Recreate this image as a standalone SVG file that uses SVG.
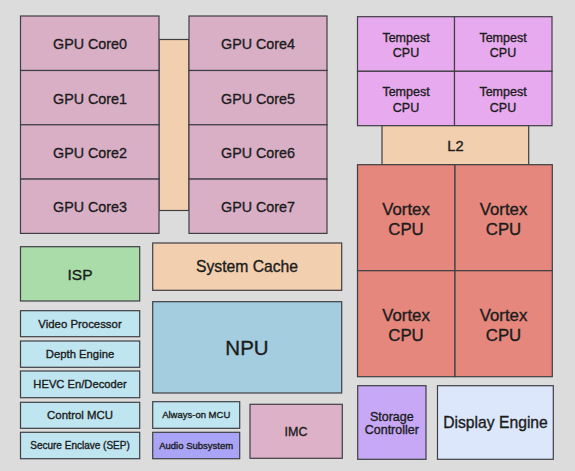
<svg xmlns="http://www.w3.org/2000/svg" width="575" height="471" viewBox="0 0 575 471">
<style>
  .b{stroke:#3f3f44;stroke-width:1.2}
  text{font-family:"Liberation Sans",Arial,Helvetica,sans-serif;fill:#1c1c1c;stroke:#1c1c1c;stroke-width:0.35;text-anchor:middle}
  .gpu{fill:#d9afc5}
  .cache{fill:#f2cfae}
  .temp{fill:#e8aaee}
  .vort{fill:#e5877c}
  .lb{fill:#bfe5f0}
</style>
<rect width="575" height="471" fill="#dcdcdc"/>

<g id="gpu-fabric"><rect class="b cache" x="159" y="39.5" width="30" height="171"/></g>
<g id="gpu0"><rect class="b gpu" x="20.5" y="16" width="138.5" height="54.5"/><text x="90" y="49" font-size="14.3">GPU Core0</text></g>
<g id="gpu1"><rect class="b gpu" x="20.5" y="70.5" width="138.5" height="54.3"/><text x="90" y="103.5" font-size="14.3">GPU Core1</text></g>
<g id="gpu2"><rect class="b gpu" x="20.5" y="124.8" width="138.5" height="54.3"/><text x="90" y="157.8" font-size="14.3">GPU Core2</text></g>
<g id="gpu3"><rect class="b gpu" x="20.5" y="179.1" width="138.5" height="54.3"/><text x="90" y="212" font-size="14.3">GPU Core3</text></g>
<g id="gpu4"><rect class="b gpu" x="189" y="16" width="138" height="54.5"/><text x="258" y="49" font-size="14.3">GPU Core4</text></g>
<g id="gpu5"><rect class="b gpu" x="189" y="70.5" width="138" height="54.3"/><text x="258" y="103.5" font-size="14.3">GPU Core5</text></g>
<g id="gpu6"><rect class="b gpu" x="189" y="124.8" width="138" height="54.3"/><text x="258" y="157.8" font-size="14.3">GPU Core6</text></g>
<g id="gpu7"><rect class="b gpu" x="189" y="179.1" width="138" height="54.3"/><text x="258" y="212" font-size="14.3">GPU Core7</text></g>

<g id="tempest0"><rect class="b temp" x="357.5" y="16.7" width="97" height="54.6"/><text x="406" y="41.5" font-size="12.5">Tempest</text><text x="406" y="57" font-size="12.5">CPU</text></g>
<g id="tempest1"><rect class="b temp" x="454.5" y="16.7" width="97.5" height="54.6"/><text x="503" y="41.5" font-size="12.5">Tempest</text><text x="503" y="57" font-size="12.5">CPU</text></g>
<g id="tempest2"><rect class="b temp" x="357.5" y="71.3" width="97" height="54.4"/><text x="406" y="96" font-size="12.5">Tempest</text><text x="406" y="111.5" font-size="12.5">CPU</text></g>
<g id="tempest3"><rect class="b temp" x="454.5" y="71.3" width="97.5" height="54.4"/><text x="503" y="96" font-size="12.5">Tempest</text><text x="503" y="111.5" font-size="12.5">CPU</text></g>
<g id="l2"><rect class="b cache" x="382" y="125.7" width="146.7" height="39"/><text x="455.5" y="150.5" font-size="14.7">L2</text></g>
<g id="vortex0"><rect class="b vort" x="357.5" y="164.7" width="97.5" height="106"/><text x="406" y="215" font-size="16.8">Vortex</text><text x="406" y="235" font-size="16.8">CPU</text></g>
<g id="vortex1"><rect class="b vort" x="455" y="164.7" width="97.3" height="106"/><text x="503.5" y="215" font-size="16.8">Vortex</text><text x="503.5" y="235" font-size="16.8">CPU</text></g>
<g id="vortex2"><rect class="b vort" x="357.5" y="270.7" width="97.5" height="106"/><text x="406" y="320.5" font-size="16.8">Vortex</text><text x="406" y="340.5" font-size="16.8">CPU</text></g>
<g id="vortex3"><rect class="b vort" x="455" y="270.7" width="97.3" height="106"/><text x="503.5" y="320.5" font-size="16.8">Vortex</text><text x="503.5" y="340.5" font-size="16.8">CPU</text></g>

<g id="isp"><rect class="b" fill="#a9dca8" x="20.5" y="246.7" width="119.2" height="54.3"/><text x="80" y="279.5" font-size="15.5">ISP</text></g>
<g id="system-cache"><rect class="b cache" x="152.7" y="243" width="189" height="47.3"/><text x="247" y="272" font-size="15.7">System Cache</text></g>
<g id="npu"><rect class="b" fill="#a4cee0" x="152.7" y="301.7" width="189" height="91.3"/><text x="247" y="354.8" font-size="20.5">NPU</text></g>
<g id="video"><rect class="b lb" x="20.5" y="310.7" width="119.2" height="26"/><text x="80" y="327.8" font-size="11.4">Video Processor</text></g>
<g id="depth"><rect class="b lb" x="20.5" y="341" width="119.2" height="26.3"/><text x="80" y="358.2" font-size="11.3">Depth Engine</text></g>
<g id="hevc"><rect class="b lb" x="20.5" y="371" width="119.2" height="26.7"/><text x="80" y="388.4" font-size="11.2">HEVC En/Decoder</text></g>
<g id="control-mcu"><rect class="b lb" x="20.5" y="402.3" width="119.2" height="26"/><text x="80" y="419.4" font-size="11.4">Control MCU</text></g>
<g id="sep"><rect class="b lb" x="20.5" y="432.3" width="119.2" height="26.4"/><text x="80" y="449.4" font-size="10">Secure Enclave (SEP)</text></g>
<g id="aon-mcu"><rect class="b lb" x="152.7" y="401.7" width="87" height="26.6"/><text x="196.2" y="418.3" font-size="9.5">Always-on MCU</text></g>
<g id="audio"><rect class="b" fill="#aaa4f6" x="152.7" y="432.3" width="87" height="26.4"/><text x="196.2" y="448.8" font-size="9.5">Audio Subsystem</text></g>
<g id="imc"><rect class="b" fill="#ddb1c7" x="250" y="404.3" width="92.3" height="54"/><text x="296" y="435.5" font-size="12.5">IMC</text></g>
<g id="storage"><rect class="b" fill="#c6a8f6" x="357.7" y="385.7" width="68.3" height="73.6"/><text x="391.8" y="420.7" font-size="12.5">Storage</text><text x="391.8" y="434.3" font-size="12.5">Controller</text></g>
<g id="display"><rect class="b" fill="#dde7fb" x="437.5" y="385.7" width="115.8" height="73.6"/><text x="495.5" y="428" font-size="15.7">Display Engine</text></g>

<g id="connectors"></g>
</svg>
